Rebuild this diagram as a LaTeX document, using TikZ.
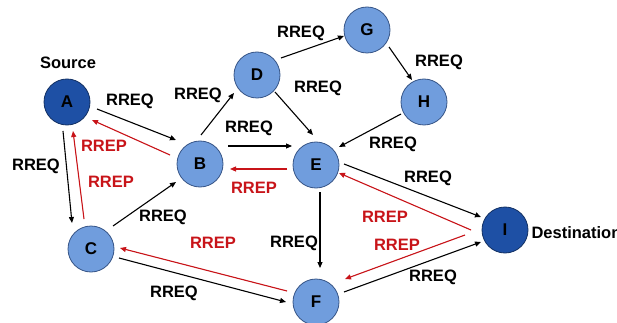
\documentclass[tikz,border=0pt]{standalone}
\usepackage{fontspec}
\setmainfont{Liberation Sans}
\usetikzlibrary{calc,arrows.meta}
\definecolor{hopblue}{RGB}{112,157,221}
\definecolor{endblue}{RGB}{30,80,165}
\definecolor{rimblue}{RGB}{55,85,135}
\definecolor{reprd}{RGB}{200,20,25}

\begin{document}
\begin{tikzpicture}[x=1pt, y=-1pt,
		hop/.style={circle, draw=rimblue, line width=0.8pt, fill=hopblue, minimum size=46pt, inner sep=0pt, font=\fontsize{17}{17}\selectfont\bfseries},
		endhop/.style={hop, fill=endblue, draw=endblue!60!black},
		req/.style={line width=1.1pt, -{Triangle[length=6pt,width=5pt]}},
		rep/.style={req, draw=reprd, fill=reprd},
		lbl/.style={font=\fontsize{16.5}{16.5}\selectfont\bfseries},
		replbl/.style={lbl, text=reprd}]
		%%%%% START %%%%%
		
		\useasboundingbox (0, 0) rectangle (617, 323);
		
		% hops
		\node[endhop] (A) at (67, 102) {A};
		\node[hop] (B) at (200, 164) {B};
		\node[hop] (C) at (91, 249) {C};
		\node[hop] (D) at (257, 75) {D};
		\node[hop] (E) at (316, 165) {E};
		\node[hop] (F) at (316, 302) {F};
		\node[hop] (G) at (367, 30) {G};
		\node[hop] (H) at (424, 102) {H};
		\node[endhop] (I) at (505, 230) {I};
		
		\node[lbl] (src) at (68, 63) {Source};
		\node[lbl, anchor=west] (dst) at (528, 233) {Destination};
		
		% route requests
		\draw[req] ($(A)+(30, 7)$) -- ($(B)+(-24, -24)$);
		\draw[req] ($(A)+(-4, 29)$) -- ($(C)+(-19, -26)$);
		\draw[req] ($(C)+(22, -23)$) -- ($(B)+(-24, 18)$);
		\draw[req] ($(C)+(28, 9)$) -- ($(F)+(-30, 0)$);
		\draw[req] ($(B)+(1, -29)$) -- ($(D)+(-23, 18)$);
		\draw[req] ($(D)+(24, -17)$) -- ($(G)+(-23, 6)$);
		\draw[req] ($(G)+(22, 17)$) -- ($(H)+(-12, -22)$);
		\draw[req] ($(H)+(-23, 12)$) -- ($(E)+(23, -18)$);
		\draw[req] ($(D)+(18, 17)$) -- ($(E)+(-3, -30)$);
		\draw[req] ($(B)+(28, -18)$) -- ($(E)+(-24, -19)$);
		\draw[req] ($(E)+(4, 27)$) -- ($(F)+(4, -34)$);
		\draw[req] ($(E)+(28, -1)$) -- ($(I)+(-24, -13)$);
		\draw[req] ($(F)+(28, -10)$) -- ($(I)+(-24, 12)$);
		
		% route replies
		\draw[rep] ($(B)+(-30, -9)$) -- ($(A)+(25, 18)$);
		\draw[rep] ($(C)+(-7, -30)$) -- ($(A)+(6, 29)$);
		\draw[rep] ($(F)+(-29, -11)$) -- ($(C)+(29, -1)$);
		\draw[rep] ($(E)+(-29, 4)$) -- ($(B)+(30, 5)$);
		\draw[rep] ($(I)+(-34, 0)$) -- ($(E)+(23, 8)$);
		\draw[rep] ($(I)+(-40, 5)$) -- ($(F)+(29, -23)$);
		
		% labels
		\node[lbl] (qab) at (130, 101) {RREQ};
		\node[lbl] (qac) at (36, 166) {RREQ};
		\node[lbl] (qcb) at (163, 217) {RREQ};
		\node[lbl] (qcf) at (174, 293) {RREQ};
		\node[lbl] (qbd) at (198, 95) {RREQ};
		\node[lbl] (qdg) at (301, 33) {RREQ};
		\node[lbl] (qgh) at (439, 62) {RREQ};
		\node[lbl] (qde) at (318, 88) {RREQ};
		\node[lbl] (qbe) at (249, 128) {RREQ};
		\node[lbl] (qhe) at (393, 144) {RREQ};
		\node[lbl] (qef) at (294, 243) {RREQ};
		\node[lbl] (qei) at (428, 178) {RREQ};
		\node[lbl] (qfi) at (433, 277) {RREQ};
		
		\node[replbl] (pba) at (104, 146) {RREP};
		\node[replbl] (pca) at (111, 182) {RREP};
		\node[replbl] (pfc) at (213, 243) {RREP};
		\node[replbl] (peb) at (254, 188) {RREP};
		\node[replbl] (pie) at (385, 217) {RREP};
		\node[replbl] (pif) at (397, 245) {RREP};
		
		%%%%% END %%%%%
	\end{tikzpicture}
\end{document}
